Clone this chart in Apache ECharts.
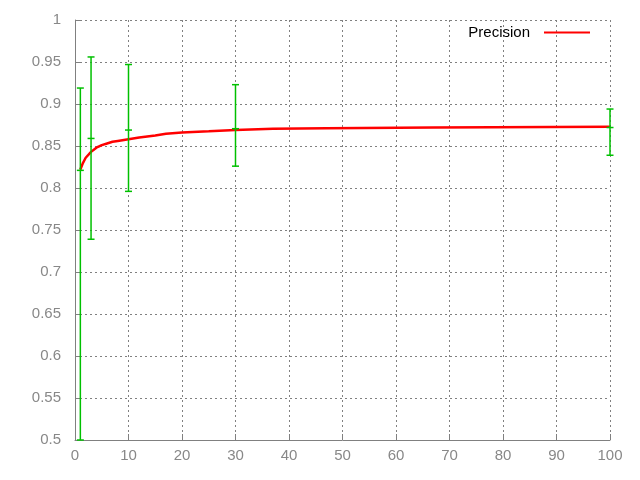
<!DOCTYPE html>
<html>
<head>
<meta charset="utf-8">
<script src="https://cdn.jsdelivr.net/npm/echarts@6/dist/echarts.min.js"></script>
<style>
html,body{margin:0;padding:0;background:#fff;}
#c{width:640px;height:480px;}
</style>
</head>
<body>
<div id="c"></div>
<script>
// Precision curve
var curveX = [1, 1.5, 2, 3, 4, 5, 6, 7, 8, 10, 12, 15, 17, 20, 22, 25, 30, 37, 47, 67, 100];
var curveY = [0.822, 0.830, 0.836, 0.843, 0.848, 0.851, 0.853, 0.855, 0.856, 0.858, 0.860, 0.8625, 0.8645, 0.866, 0.8667, 0.8675, 0.869, 0.8705, 0.871, 0.872, 0.873];
// Error bars
var errX = [1, 3, 10, 30, 100];
var errMid = [0.821, 0.859, 0.869, 0.8706, 0.872];
var errLow = [0.5, 0.739, 0.796, 0.826, 0.839];
var errHigh = [0.919, 0.956, 0.947, 0.923, 0.894];
var seriesName = 'Precision';

var lineData = curveX.map(function (x, i) { return [x, curveY[i]]; });
var errData = errX.map(function (x, i) { return [x, errMid[i], errLow[i], errHigh[i]]; });

var chart = echarts.init(document.getElementById('c'), null, {renderer: 'canvas'});
var gridCol = '#808080';
chart.setOption({
  animation: false,
  backgroundColor: '#ffffff',
  grid: {left: 75, right: 30, top: 20, bottom: 40, containLabel: false},
  legend: {
    show: true,
    data: [{name: seriesName, icon: 'rect'}],
    right: 45,
    top: 20,
    align: 'right',
    itemWidth: 46,
    itemHeight: 2,
    itemGap: 14,
    textStyle: {fontFamily: 'Liberation Sans', fontSize: 15, color: '#000', padding: [0, 9, 0, 0]}
  },
  xAxis: {
    type: 'value', min: 0, max: 100, interval: 10,
    axisLine: {show: true, lineStyle: {color: gridCol, width: 1}},
    axisTick: {show: true, inside: true, length: 6, lineStyle: {color: gridCol}},
    axisLabel: {color: '#888888', fontFamily: 'Liberation Sans', fontSize: 15, margin: 8},
    splitLine: {show: true, lineStyle: {color: gridCol, type: [2, 3], width: 1}}
  },
  yAxis: {
    type: 'value', min: 0.5, max: 1, interval: 0.05,
    axisLine: {show: true, lineStyle: {color: gridCol, width: 1}},
    axisTick: {show: true, inside: true, length: 6, lineStyle: {color: gridCol}},
    axisLabel: {color: '#888888', fontFamily: 'Liberation Sans', fontSize: 15, margin: 14,
      formatter: function (v) { return String(parseFloat(v.toFixed(2))); }},
    splitLine: {show: true, lineStyle: {color: gridCol, type: [2, 3], width: 1}}
  },
  series: [
    {
      name: seriesName,
      type: 'line',
      data: lineData,
      showSymbol: false,
      symbol: 'none',
      smooth: false,
      lineStyle: {color: '#ff0000', width: 2.5},
      itemStyle: {color: '#ff0000'},
      z: 2
    },
    {
      name: 'err',
      type: 'custom',
      data: errData,
      z: 3,
      clip: false,
      renderItem: function (params, api) {
        var x = api.value(0);
        var pm = api.coord([x, api.value(1)]);
        var pl = api.coord([x, api.value(2)]);
        var ph = api.coord([x, api.value(3)]);
        var hw = 3.5;
        var st = {stroke: '#00c000', lineWidth: 1.5};
        return {
          type: 'group',
          children: [
            {type: 'line', shape: {x1: pm[0], y1: pl[1], x2: pm[0], y2: ph[1]}, style: st},
            {type: 'line', shape: {x1: pm[0] - hw, y1: pl[1], x2: pm[0] + hw, y2: pl[1]}, style: st},
            {type: 'line', shape: {x1: pm[0] - hw, y1: ph[1], x2: pm[0] + hw, y2: ph[1]}, style: st},
            {type: 'line', shape: {x1: pm[0] - hw, y1: pm[1], x2: pm[0] + hw, y2: pm[1]}, style: st}
          ]
        };
      }
    }
  ]
});
</script>
</body>
</html>
